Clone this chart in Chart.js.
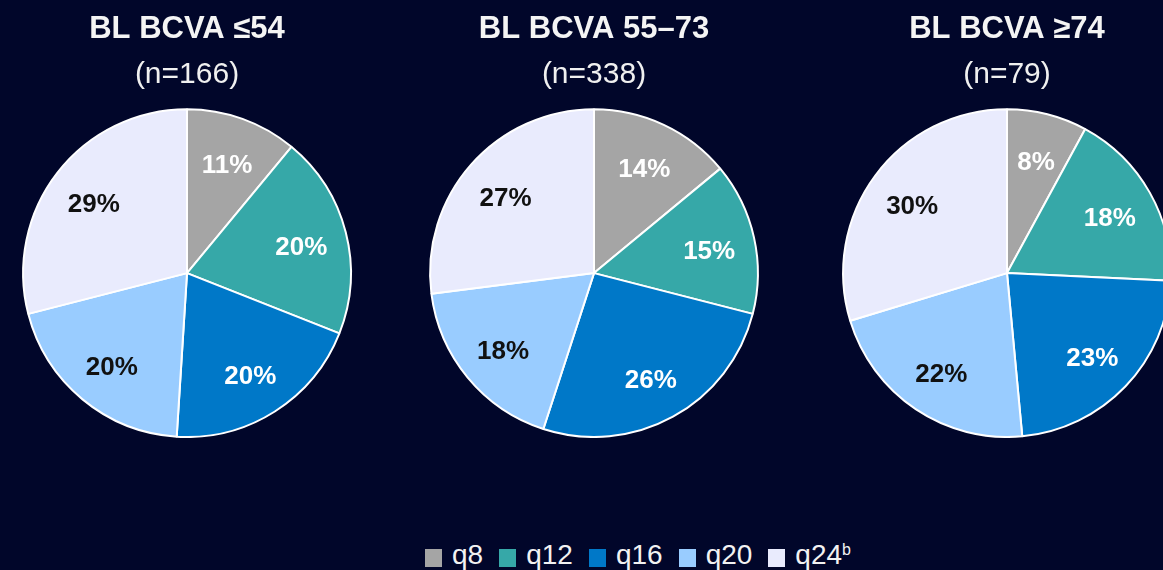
<!DOCTYPE html>
<html>
<head>
<meta charset="utf-8">
<script src="https://cdn.jsdelivr.net/npm/chart.js@4"></script>
<style>
  html, body { margin: 0; padding: 0; width: 1163px; height: 570px; overflow: hidden; background: #01062a; }
  .pie { position: absolute; top: 0; width: 400px; height: 438px; }
  #legend { position: absolute; left: 0; width: 1276px; top: 539px; display: flex; justify-content: center; align-items: center;
            font-family: "Liberation Sans", Arial, sans-serif; font-size: 28px; color: #f2f2f2; }
  #legend .item { display: flex; align-items: center; margin: 0 8px; }
  #legend .box { width: 17px; height: 18px; margin-right: 10px; margin-top: 6px; }
  #legend sup { font-size: 16px; vertical-align: 9px; }
</style>
</head>
<body>
<div class="pie" style="left:-13px"><canvas id="pie1"></canvas></div>
<div class="pie" style="left:394px"><canvas id="pie2"></canvas></div>
<div class="pie" style="left:807px"><canvas id="pie3"></canvas></div>
<div id="legend"></div>
<script>
// dosing intervals and their colours
const categories = ['q8', 'q12', 'q16', 'q20', 'q24'];
const footnotes = ['', '', '', '', 'b'];
const colors = ['#a5a5a5', '#36a8a8', '#0078c8', '#99ccff', '#e9ebfd'];
const labelColors = ['#ffffff', '#ffffff', '#ffffff', '#111111', '#111111'];

// baseline BCVA groups
const groupTitles = ['BL BCVA ≤54', 'BL BCVA 55–73', 'BL BCVA ≥74'];
const groupN = ['(n=166)', '(n=338)', '(n=79)'];

// percent of patients per interval
const lowBcva = [11, 20, 20, 20, 29];
const midBcva = [14, 15, 26, 18, 27];
const highBcva = [8, 18, 23, 22, 30];

// draws the % labels inside the slices
const sliceLabels = {
    id: 'sliceLabels',
    afterDatasetsDraw(chart) {
        const ctx = chart.ctx;
        const meta = chart.getDatasetMeta(0);
        const values = chart.data.datasets[0].data;
        ctx.save();
        ctx.font = 'bold 26px "Liberation Sans", Arial, sans-serif';
        ctx.textAlign = 'center';
        ctx.textBaseline = 'middle';
        meta.data.forEach(function (arc, i) {
            const mid = (arc.startAngle + arc.endAngle) / 2;
            const r = arc.outerRadius * 0.72;
            ctx.fillStyle = labelColors[i];
            ctx.fillText(values[i] + '%', arc.x + Math.cos(mid) * r, arc.y + Math.sin(mid) * r + 4);
        });
        ctx.restore();
    }
};

function drawPie(id, values, title, n) {
    new Chart(document.getElementById(id), {
        type: 'pie',
        data: {
            labels: categories,
            datasets: [{
                data: values,
                backgroundColor: colors,
                borderColor: '#ffffff',
                borderWidth: 2
            }]
        },
        options: {
            responsive: true,
            maintainAspectRatio: false,
            animation: false,
            layout: { padding: 0 },
            plugins: {
                legend: { display: false },
                tooltip: { enabled: false },
                title: {
                    display: true,
                    text: title,
                    color: '#f4f4f4',
                    font: { family: '"Liberation Sans", Arial, sans-serif', size: 31, weight: 'bold', lineHeight: 1.2 },
                    padding: { top: 11, bottom: 0 }
                },
                subtitle: {
                    display: true,
                    text: n,
                    color: '#f0f0f0',
                    font: { family: '"Liberation Sans", Arial, sans-serif', size: 30, weight: 'normal', lineHeight: 1.2 },
                    padding: { top: 9, bottom: 15 }
                }
            }
        },
        plugins: [sliceLabels]
    });
}

drawPie('pie1', lowBcva, groupTitles[0], groupN[0]);
drawPie('pie2', midBcva, groupTitles[1], groupN[1]);
drawPie('pie3', highBcva, groupTitles[2], groupN[2]);

// legend
const legend = document.getElementById('legend');
categories.forEach(function (cat, i) {
    const item = document.createElement('div');
    item.className = 'item';
    const box = document.createElement('span');
    box.className = 'box';
    box.style.background = colors[i];
    const txt = document.createElement('span');
    txt.innerHTML = cat + (footnotes[i] ? '<sup>' + footnotes[i] + '</sup>' : '');
    item.appendChild(box);
    item.appendChild(txt);
    legend.appendChild(item);
});
</script>
</body>
</html>
